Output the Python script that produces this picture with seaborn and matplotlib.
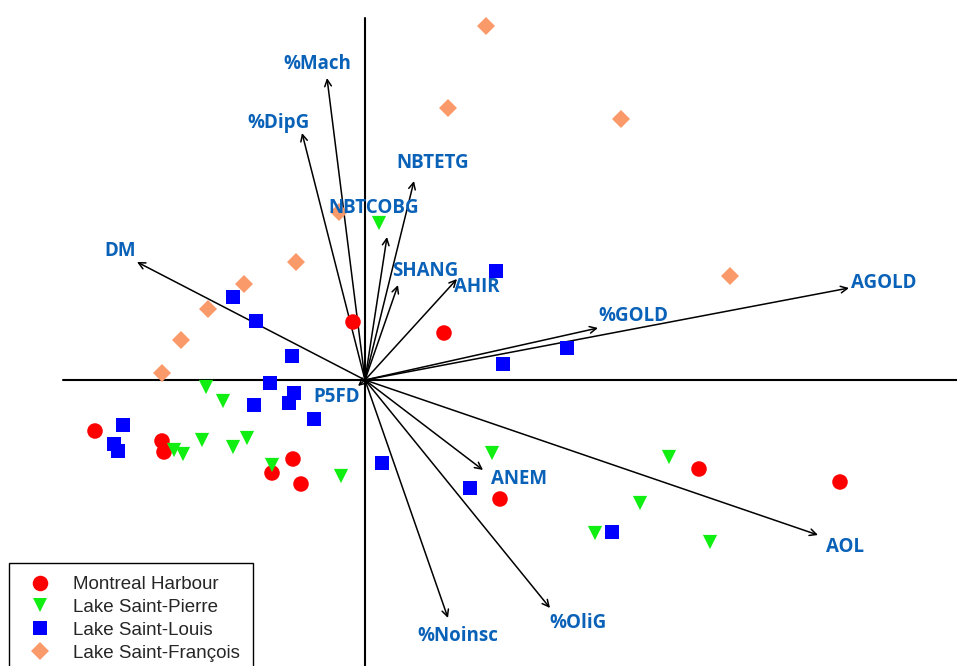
import matplotlib
matplotlib.use("Agg")
import matplotlib.pyplot as plt
import seaborn as sns
import pandas as pd

# Site scores on the first two principal components
harbour_x = [-0.12, 0.79, -2.70, -2.03, -2.01, -0.72, -0.93, -0.64, 1.35, 3.34, 4.75]
harbour_y = [0.58, 0.47, -0.51, -0.61, -0.72, -0.79, -0.93, -1.04, -1.19, -0.89, -1.02]

pierre_x = [0.14, -1.59, -1.42, -1.63, -1.18, -1.32, -1.91, -1.82, -0.93, -0.24, 1.27, 3.04, 2.75, 2.30, 3.45]
pierre_y = [1.57, -0.07, -0.21, -0.60, -0.58, -0.67, -0.70, -0.74, -0.85, -0.96, -0.73, -0.77, -1.23, -1.53, -1.62]

louis_x = [1.31, 2.02, 1.38, -1.32, -1.09, -0.73, -0.95, -0.71, -0.76, -1.11, -0.51, -2.42, -2.51, -2.47, 0.17, 1.05, 2.47]
louis_y = [1.09, 0.32, 0.16, 0.83, 0.59, 0.24, -0.03, -0.13, -0.23, -0.25, -0.39, -0.45, -0.64, -0.71, -0.83, -1.08, -1.52]

francois_x = [1.21, 0.83, 2.56, 3.65, -0.69, -1.21, -1.57, -1.84, -2.03, -0.26]
francois_y = [3.54, 2.72, 2.61, 1.04, 1.18, 0.96, 0.71, 0.40, 0.07, 1.68]

sites = ["Montreal Harbour", "Lake Saint-Pierre", "Lake Saint-Louis", "Lake Saint-François"]

# Variable loadings (arrow tips)
variables = ["%Mach", "%DipG", "NBTETG", "NBTCOBG", "SHANG", "AHIR", "%GOLD", "AGOLD",
             "DM", "ANEM", "AOL", "%OliG", "%Noinsc", "P5FD"]
load_x = [-0.38, -0.63, 0.49, 0.22, 0.33, 0.92, 2.33, 4.84, -2.28, 1.18, 4.53, 1.85, 0.83, -0.07]
load_y = [3.02, 2.47, 1.99, 1.43, 0.95, 1.01, 0.52, 0.92, 1.18, -0.90, -1.55, -2.28, -2.38, -0.06]

# Label offsets from arrow tips, in pixels
label_offsets = {
    "%Mach": (-10, 14), "%DipG": (-24, 10), "NBTETG": (19, 18), "NBTCOBG": (-13, 29),
    "SHANG": (27, 14), "AHIR": (20, -8), "%GOLD": (35, 12), "AGOLD": (35, 5),
    "DM": (-17, 11), "ANEM": (36, -9), "AOL": (27, -12), "%OliG": (28, -15),
    "%Noinsc": (10, -18), "P5FD": (-21, -11),
}

frames = []
for name, xs, ys in [(sites[0], harbour_x, harbour_y), (sites[1], pierre_x, pierre_y),
                     (sites[2], louis_x, louis_y), (sites[3], francois_x, francois_y)]:
    frames.append(pd.DataFrame({"PC1": xs, "PC2": ys, "Site": name}))
scores = pd.concat(frames, ignore_index=True)

palette = {sites[0]: "#ff0000", sites[1]: "#11ee11", sites[2]: "#0000ff", sites[3]: "#fa9a6a"}
markers = {sites[0]: "o", sites[1]: "v", sites[2]: "s", sites[3]: "D"}
sizes = {sites[0]: 125, sites[1]: 105, sites[2]: 88, sites[3]: 84}

sns.set_style("white")
fig = plt.figure(figsize=(9.57, 6.66), dpi=100)
ax = fig.add_axes([0, 0, 1, 1])
ax.set_xlim(-3.65, 5.92)
ax.set_ylim(-2.86, 3.80)
ax.axis("off")

# Principal axes
ax.plot([-3.02, 5.92], [0, 0], color="black", lw=1.5, zorder=1)
ax.plot([0, 0], [-2.86, 3.62], color="black", lw=1.5, zorder=1)

sns.scatterplot(data=scores, x="PC1", y="PC2", hue="Site", style="Site", size="Site",
                hue_order=sites, style_order=sites, size_order=sites,
                palette=palette, markers=markers, sizes=sizes,
                linewidth=0, alpha=1, ax=ax, zorder=3)

# Loading vectors
for name, lx, ly in zip(variables, load_x, load_y):
    ax.annotate("", xy=(lx, ly), xytext=(0, 0),
                arrowprops=dict(arrowstyle="->", color="black", lw=1.1,
                                shrinkA=0, shrinkB=0, mutation_scale=12),
                zorder=2)
    dx, dy = label_offsets[name]
    ax.annotate(name, xy=(lx, ly), xytext=(dx, dy), textcoords="offset pixels",
                ha="center", va="center", color="#0a62b8", fontsize=13.5,
                fontweight="bold", family="Open Sans", zorder=4)

sns.move_legend(ax, loc="upper left", bbox_to_anchor=(9 / 957, 103 / 666),
                title=None, frameon=True, fancybox=False, edgecolor="black",
                framealpha=1, prop={"family": "Liberation Sans", "size": 13.5},
                labelspacing=0.3, handlelength=1.9, handletextpad=0.8,
                borderaxespad=0, borderpad=0.7)
leg = ax.get_legend()
leg.get_frame().set_linewidth(1.0)

fig.savefig("out.png", dpi=100)
